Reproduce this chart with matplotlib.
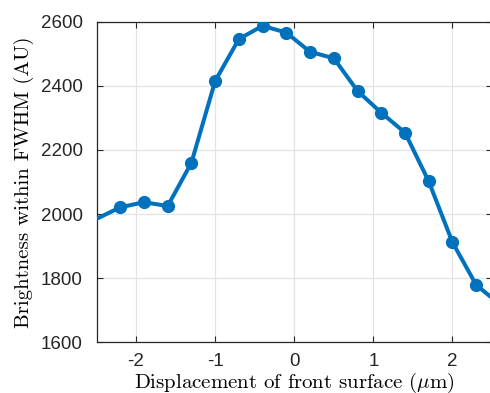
import numpy as np
import matplotlib
matplotlib.use("Agg")
import matplotlib.pyplot as plt

# displacement (um) and brightness
disp = [-2.8, -2.2, -1.9, -1.6, -1.3, -1.0, -0.7, -0.4, -0.1, 0.2, 0.5,
        0.8, 1.1, 1.4, 1.7, 2.0, 2.3, 2.6]
bright = [1949, 2021, 2037, 2025, 2160, 2415, 2546, 2587, 2566, 2506, 2486,
          2384, 2316, 2254, 2102, 1912, 1779, 1718]

xticks = [-2, -1, 0, 1, 2]
yticks = [1600, 1800, 2000, 2200, 2400, 2600]

plt.rcParams['font.family'] = ['Liberation Sans', 'DejaVu Sans']
plt.rcParams['mathtext.fontset'] = 'cm'
plt.rcParams['axes.unicode_minus'] = False

fig = plt.figure(figsize=(4.9, 3.93), dpi=100)
ax = fig.add_axes([96.5 / 490, 1 - 342.3 / 393, 395.5 / 490, 320.6 / 393])

ax.plot(disp, bright, '-o', color='#0072BD', lw=2.9, ms=8,
        markeredgewidth=1.5, zorder=3)

ax.set_xlim(-2.5, 2.5)
ax.set_ylim(1600, 2600)
ax.set_xticks(xticks)
ax.set_yticks(yticks)
ax.grid(True, color='#e3e3e3', lw=0.9)
ax.set_axisbelow(True)
ax.tick_params(direction='in', length=4, width=0.8, colors='#262626',
               labelsize=13.5, top=True, right=True)
ax.tick_params(axis='y', pad=10)
ax.tick_params(axis='x', pad=8)
for s in ax.spines.values():
    s.set_color('#262626')
    s.set_linewidth(0.9)

ax.set_xlabel(r'Displacement of front surface ($\mu$m)', fontname='cmr10',
              fontsize=15, labelpad=0)
ax.set_ylabel('Brightness within FWHM (AU)', fontname='cmr10',
              fontsize=15, labelpad=5)

fig.savefig('out.png', dpi=100)
